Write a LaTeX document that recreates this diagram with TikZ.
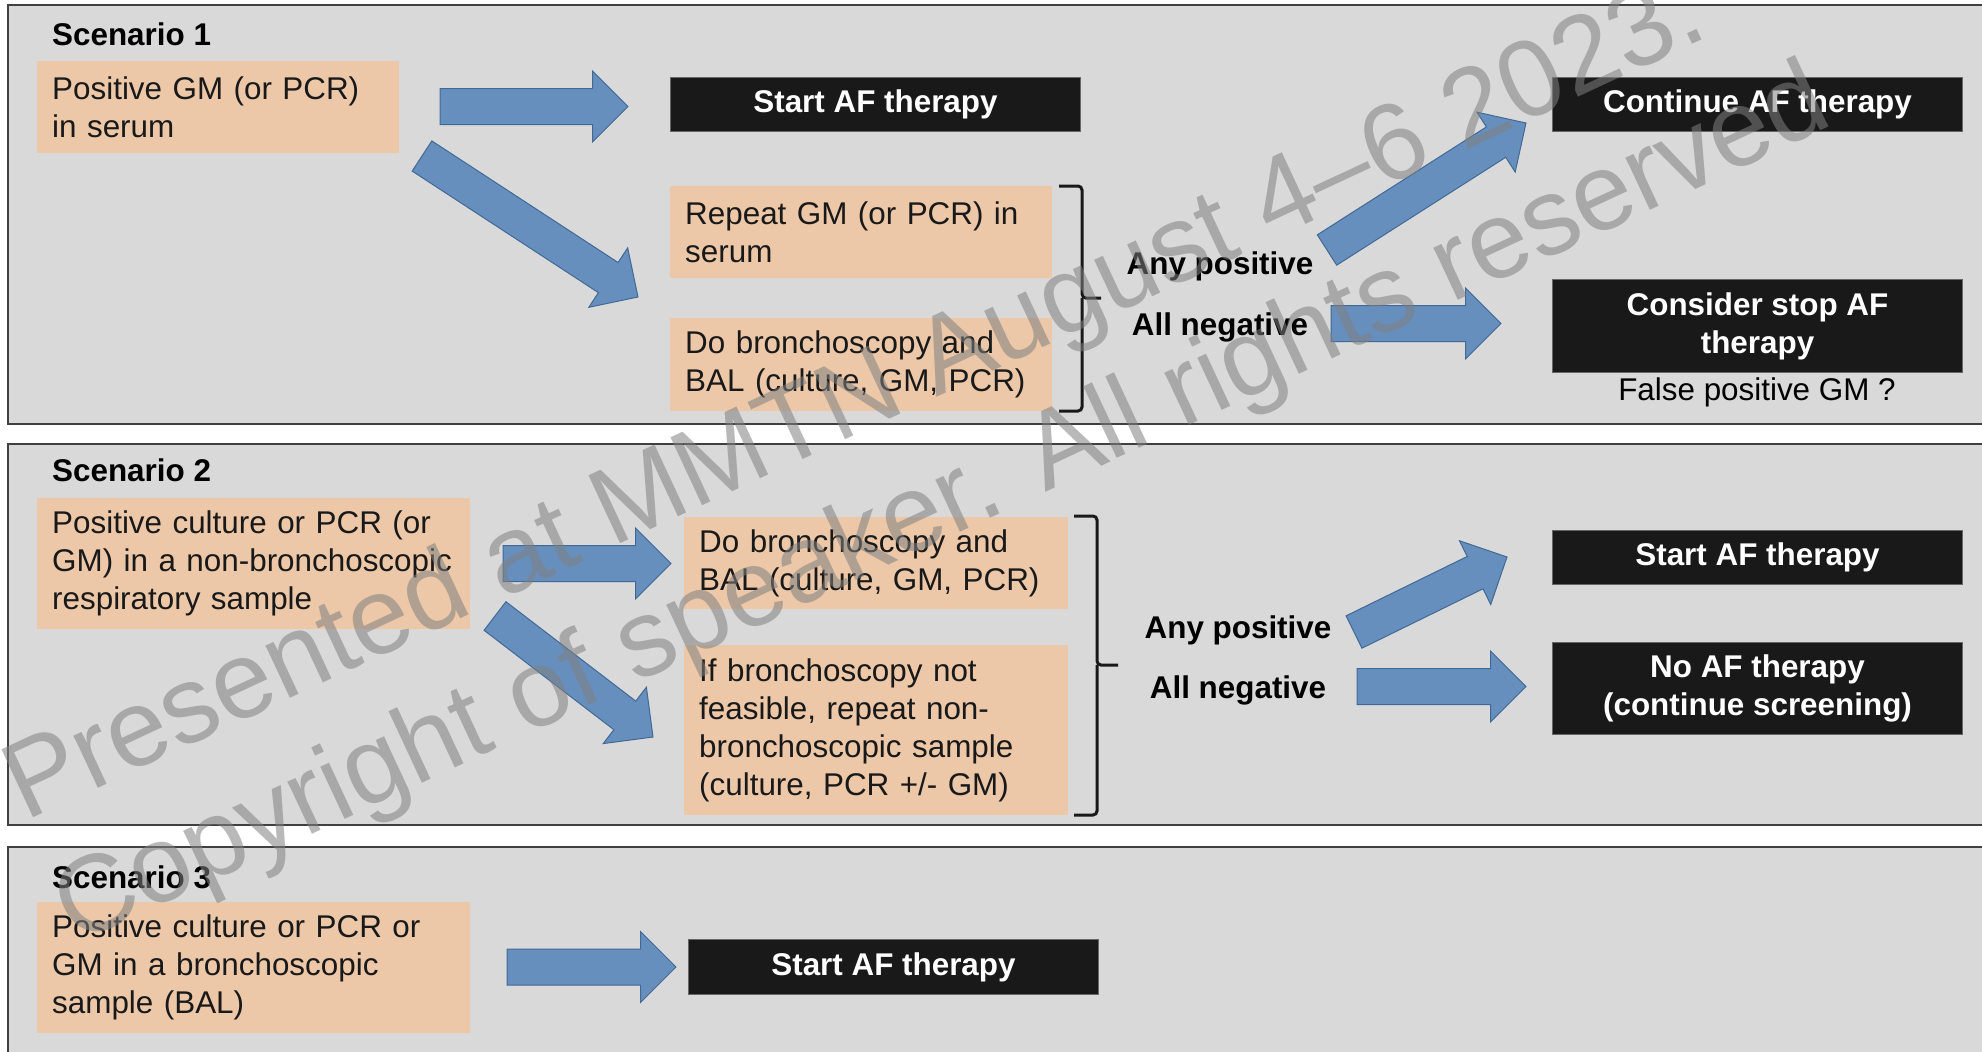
\documentclass[tikz,border=0pt]{standalone}
\usepackage{fontspec}
\setmainfont{Liberation Sans}
\usetikzlibrary{calc,shapes.arrows}

\definecolor{panelgray}{RGB}{217,217,217}
\definecolor{peach}{RGB}{236,200,168}
\definecolor{arrowblue}{RGB}{103,143,190}
\definecolor{arrowedge}{RGB}{65,105,150}
\definecolor{boxblack}{RGB}{25,25,25}

\newcommand{\fatarrow}[2]{%
  \path let \p1 = ($(#2)-(#1)$), \n1 = {atan2(\y1,\x1)}, \n2 = {veclen(\x1,\y1)} in
    node[blockarrow, rotate=\n1, minimum height=\n2, anchor=tail] at (#1) {};}

\begin{document}
\begin{tikzpicture}[x=1pt, y=-1pt]
\tikzset{panel/.style = {fill=panelgray, draw=black!75, line width=2.5pt}}
\tikzset{peachbox/.style = {fill=peach, anchor=north west, align=left, inner xsep=15pt, inner ysep=0pt, text=black!90}}
\tikzset{darkbox/.style = {fill=boxblack, draw=black!60, line width=1pt, anchor=north west, align=center, text=white, inner sep=0pt, font=\bfseries}}
\tikzset{blockarrow/.style = {single arrow, fill=arrowblue, draw=arrowedge, line width=1pt, single arrow head extend=17.5pt, inner xsep=0pt, inner ysep=17.5pt, outer sep=0pt}}
\tikzset{title/.style = {anchor=base west, font=\bfseries, inner sep=0pt}}
\tikzset{verdict/.style = {anchor=base, font=\bfseries, inner sep=0pt}}
\tikzset{brace/.style = {draw=black!90, line width=3pt, rounded corners=4pt}}
\tikzset{stamp/.style = {anchor=base west, rotate=25, inner sep=0pt, text=black!50, text opacity=0.55, font=\fontsize{109}{130}\selectfont}}
\useasboundingbox (0,0) rectangle (1982,1052);
\fontsize{31.4}{38}\selectfont
% panels
\draw[panel] (8,5) rectangle (2010,424);
\draw[panel] (8,444) rectangle (2010,825);
\draw[panel] (8,847) rectangle (2010,1070);

% scenario 1
\node[title] (sc1) at (52,45) {Scenario 1};
\node[peachbox, text width=332pt, minimum height=92pt] (pos1) at (37,61) {Positive GM (or PCR)\\in serum};
\node[darkbox, minimum width=410pt, minimum height=54pt] (start1) at (670,77) {Start AF therapy};
\node[peachbox, text width=352pt, minimum height=92pt] (rep1) at (670,186) {Repeat GM (or PCR) in\\serum};
\node[peachbox, text width=352pt, minimum height=93pt] (bal1) at (670,318) {Do bronchoscopy and\\BAL (culture, GM, PCR)};
\node[verdict] (any1) at (1220,274) {Any positive};
\node[verdict] (neg1) at (1220,335) {All negative};
\node[darkbox, minimum width=410pt, minimum height=54pt] (cont1) at (1552,77) {Continue AF therapy};
\node[darkbox, minimum width=410pt, minimum height=93pt] (stop1) at (1552,279) {Consider stop AF\\therapy};
\node[anchor=base, inner sep=0pt] (fp1) at (1757,400) {False positive GM ?};
\draw[brace] (1059,186) -| (1082,298) -- (1101,298);
\draw[brace] (1082,298) |- (1059,411);

% scenario 2
\node[title] (sc2) at (52,481) {Scenario 2};
\node[peachbox, text width=403pt, minimum height=131pt] (pos2) at (37,498) {Positive culture or PCR (or\\GM) in a non-bronchoscopic\\respiratory sample};
\node[peachbox, text width=354pt, minimum height=92pt] (bal2) at (684,517) {Do bronchoscopy and\\BAL (culture, GM, PCR)};
\node[peachbox, text width=354pt, minimum height=170pt] (rep2) at (684,645) {If bronchoscopy not\\feasible, repeat non-\\bronchoscopic sample\\(culture, PCR +/- GM)};
\node[verdict] (any2) at (1238,638) {Any positive};
\node[verdict] (neg2) at (1238,698) {All negative};
\node[darkbox, minimum width=410pt, minimum height=54pt] (start2) at (1552,530) {Start AF therapy};
\node[darkbox, minimum width=410pt, minimum height=92pt] (noaf2) at (1552,642) {No AF therapy\\(continue screening)};
\draw[brace] (1074,516) -| (1097,665) -- (1118,665);
\draw[brace] (1097,665) |- (1074,815);

% scenario 3
\node[title] (sc3) at (52,888) {Scenario 3};
\node[peachbox, text width=403pt, minimum height=131pt] (pos3) at (37,902) {Positive culture or PCR or\\GM in a bronchoscopic\\sample (BAL)};
\node[darkbox, minimum width=410pt, minimum height=55pt] (start3) at (688,939) {Start AF therapy};

% arrows
\coordinate (a1) at (440,106.5);  \coordinate (a1t) at (628,106.5);
\coordinate (a2) at (422,156);    \coordinate (a2t) at (638,297);
\coordinate (a3) at (1327,250);   \coordinate (a3t) at (1526,123);
\coordinate (a4) at (1331,323.5); \coordinate (a4t) at (1501,323.5);
\coordinate (b1) at (503,563.5);  \coordinate (b1t) at (671,563.5);
\coordinate (b2) at (495,616);    \coordinate (b2t) at (653,737);
\coordinate (b3) at (1354,632);   \coordinate (b3t) at (1507,557);
\coordinate (b4) at (1357,686.5); \coordinate (b4t) at (1526,686.5);
\coordinate (c1) at (507,967);    \coordinate (c1t) at (676,967);
\fatarrow{a1}{a1t}
\fatarrow{a2}{a2t}
\fatarrow{a3}{a3t}
\fatarrow{a4}{a4t}
\fatarrow{b1}{b1t}
\fatarrow{b2}{b2t}
\fatarrow{b3}{b3t}
\fatarrow{b4}{b4t}
\fatarrow{c1}{c1t}

% watermark
\node[stamp] (wm1) at (25,822) {Presented at MMTN August 4–6 2023.};
\node[stamp] (wm2) at (75,945) {Copyright of speaker. All rights reserved};
\end{tikzpicture}
\end{document}
